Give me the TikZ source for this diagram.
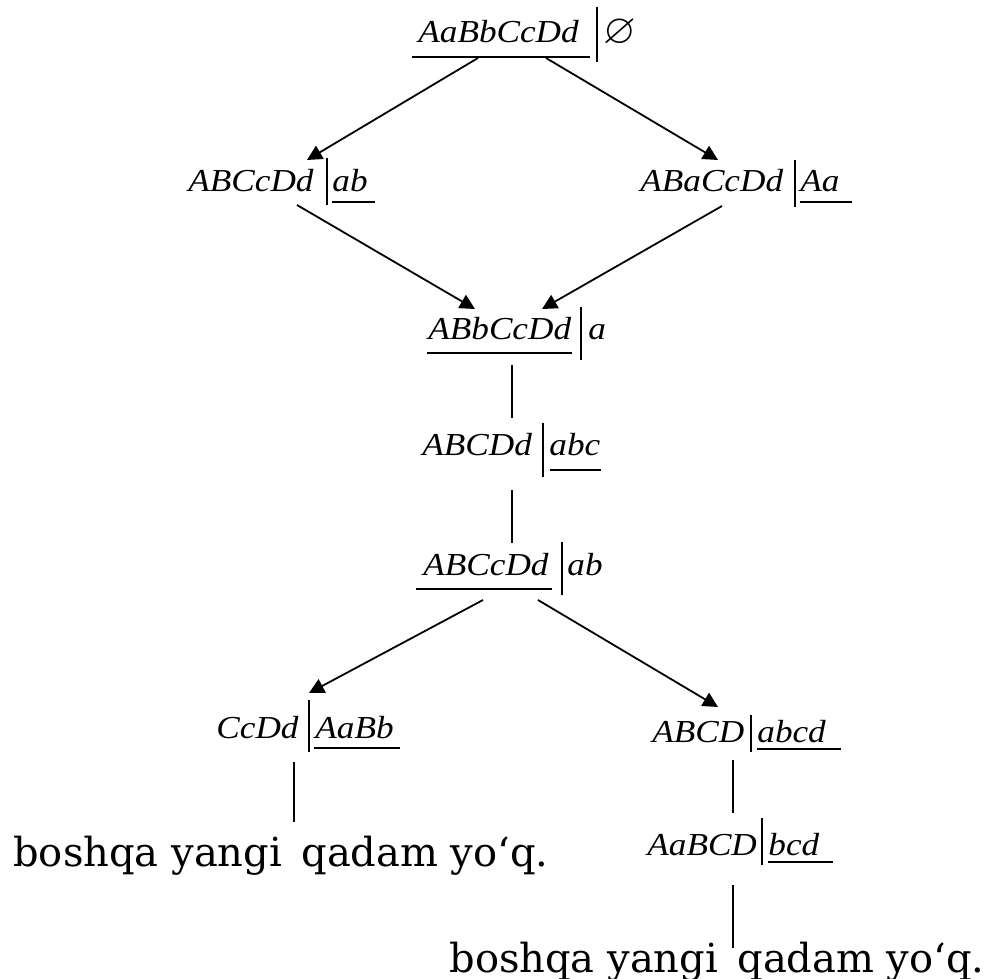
\documentclass[tikz,border=0pt]{standalone}
\usepackage{amssymb}
\usepackage{fontspec}
\newfontfamily\fmfont[FakeStretch=1.1]{Liberation Serif Italic}
\newfontfamily\btfont{DejaVu Serif}
\usetikzlibrary{arrows.meta}
\begin{document}
\begin{tikzpicture}[x=0.5pt,y=-0.5pt,
  ft/.style={font=\fmfont\fontsize{16}{19}\selectfont, inner sep=0pt, anchor=base west},
  bt/.style={font=\btfont\fontsize{20}{24}\selectfont, inner sep=0pt, anchor=base west},
  ln/.style={line width=0.9pt},
  arr/.style={ln,-{Triangle[length=7.5pt,width=7.5pt]}}]
\useasboundingbox (0,0) rectangle (998,979);

% ---- state 0 (top)
\node[ft] (s0) at (418,43) {AaBbCcDd};
\node[inner sep=0pt, anchor=base west, font=\fontsize{21}{24}\selectfont] (s0r) at (603,44) {$\varnothing$};
\draw[ln] (412,57) -- (590,57);
\draw[ln] (597,7) -- (597,62);

% ---- state 1 (left, row 2)
\node[ft] (s1) at (188,192) {ABCcDd};
\node[ft] (s1r) at (332,192) {ab};
\draw[ln] (327,158) -- (327,205);
\draw[ln] (332,202) -- (375,202);

% ---- state 2 (right, row 2)
\node[ft] (s2) at (640,192) {ABaCcDd};
\node[ft] (s2r) at (800,192) {Aa};
\draw[ln] (795,160) -- (795,207);
\draw[ln] (800,202) -- (852,202);

% ---- state 3
\node[ft] (s3) at (428,340) {ABbCcDd};
\node[ft] (s3r) at (588,340) {a};
\draw[ln] (427,353) -- (572,353);
\draw[ln] (581,307) -- (581,360);

% ---- state 4
\node[ft] (s4) at (422,456) {ABCDd};
\node[ft] (s4r) at (549,456) {abc};
\draw[ln] (543,423) -- (543,477);
\draw[ln] (550,470) -- (601,470);

% ---- state 5
\node[ft] (s5) at (423,575) {ABCcDd};
\node[ft] (s5r) at (567,575) {ab};
\draw[ln] (416,589) -- (552,589);
\draw[ln] (562,542) -- (562,595);

% ---- state 6 (left, lower)
\node[ft] (s6) at (216,738) {CcDd};
\node[ft] (s6r) at (315,738) {AaBb};
\draw[ln] (309,700) -- (309,752);
\draw[ln] (314,748) -- (400,748);

% ---- state 7 (right, lower)
\node[ft] (s7) at (652,742) {ABCD};
\node[ft] (s7r) at (757,742) {abcd};
\draw[ln] (751,715) -- (751,752);
\draw[ln] (757,749) -- (841,749);

% ---- state 8
\node[ft] (s8) at (647,855) {AaBCD};
\node[ft] (s8r) at (768,855) {bcd};
\draw[ln] (762,818) -- (762,865);
\draw[ln] (768,862) -- (833,862);

% ---- end texts
\node[bt] (e1) at (13,866) {boshqa yangi\, qadam yo‘q.};
\node[bt] (e2) at (449,972) {boshqa yangi\, qadam yo‘q.};

% ---- connector end points
\coordinate (c01s) at (478,58);  \coordinate (c01e) at (307,160);
\coordinate (c02s) at (546,58);  \coordinate (c02e) at (718,160);
\coordinate (c13s) at (297,205); \coordinate (c13e) at (475,309);
\coordinate (c23s) at (722,206); \coordinate (c23e) at (542,309);
\coordinate (c34s) at (512,365); \coordinate (c34e) at (512,418);
\coordinate (c45s) at (512,490); \coordinate (c45e) at (512,543);
\coordinate (c56s) at (483,600); \coordinate (c56e) at (309,693);
\coordinate (c57s) at (538,600); \coordinate (c57e) at (718,707);
\coordinate (c6es) at (294,762); \coordinate (c6ee) at (294,822);
\coordinate (c78s) at (733,760); \coordinate (c78e) at (733,813);
\coordinate (c8es) at (733,885); \coordinate (c8ee) at (733,948);

\draw[arr] (c01s) -- (c01e);
\draw[arr] (c02s) -- (c02e);
\draw[arr] (c13s) -- (c13e);
\draw[arr] (c23s) -- (c23e);
\draw[ln]  (c34s) -- (c34e);
\draw[ln]  (c45s) -- (c45e);
\draw[arr] (c56s) -- (c56e);
\draw[arr] (c57s) -- (c57e);
\draw[ln]  (c6es) -- (c6ee);
\draw[ln]  (c78s) -- (c78e);
\draw[ln]  (c8es) -- (c8ee);
\end{tikzpicture}
\end{document}
